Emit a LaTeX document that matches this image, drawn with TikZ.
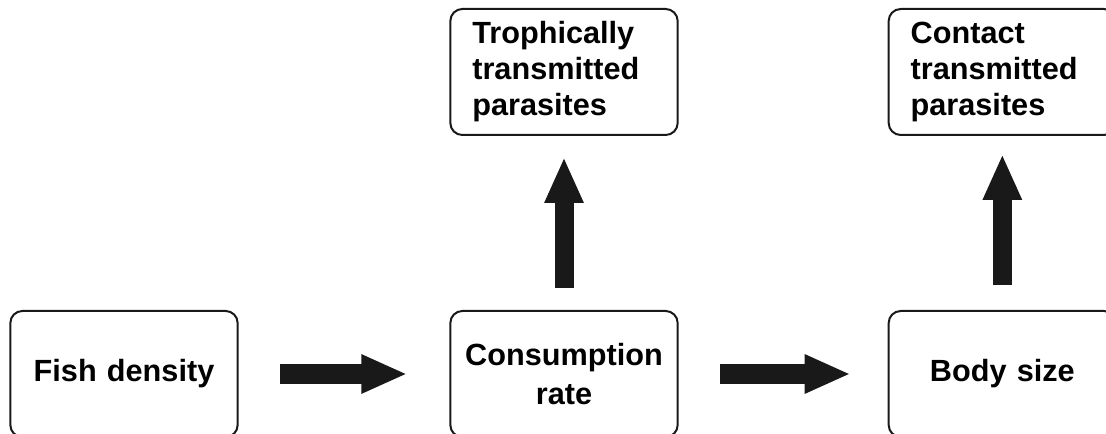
\documentclass[tikz,border=0pt]{standalone}
\usepackage{fontspec}
\setmainfont{Liberation Sans}
\usetikzlibrary{positioning,arrows.meta}
\begin{document}
\begin{tikzpicture}[x=0.75pt,y=-0.75pt,node distance=130.5pt and 158pt]
\tikzstyle{roundbox} = [rectangle, rounded corners=9pt, minimum width=170.5pt, minimum height=94.5pt, inner xsep=16.5pt, text width=137.5pt, draw=black!90, line width=1.5pt, font=\fontsize{23}{27}\selectfont\bfseries]
\tikzstyle{fatarrow} = [draw=black!90, line width=14.25pt, -{Triangle[length=34.5pt,width=27pt]}]
\useasboundingbox (0,0) rectangle (1106,434);
\clip (0,0) rectangle (1106,434);
\node (fish)[roundbox, align=center] at (124,374) {Fish density};
\node (cons)[roundbox, align=center, inner xsep=5.25pt, text width=160pt, right=of fish] {Consumption\\[2pt]rate};
\node (body)[roundbox, align=center, right=156.75pt of cons] {Body size};
\node (troph)[roundbox, align=left, above=of cons] {Trophically\\transmitted\\parasites};
\node (contact)[roundbox, align=left, above=of body] {Contact\\transmitted\\parasites};
\draw [fatarrow, shorten <=30.75pt, shorten >=31.5pt] (fish) -- (cons);
\draw [fatarrow, shorten <=30.75pt, shorten >=27.75pt] (cons) -- (body);
\draw [fatarrow, shorten <=16.5pt, shorten >=15.75pt] (cons) -- (troph);
\draw [fatarrow, shorten <=18.75pt, shorten >=13.5pt] (body) -- (contact);
\end{tikzpicture}
\end{document}
